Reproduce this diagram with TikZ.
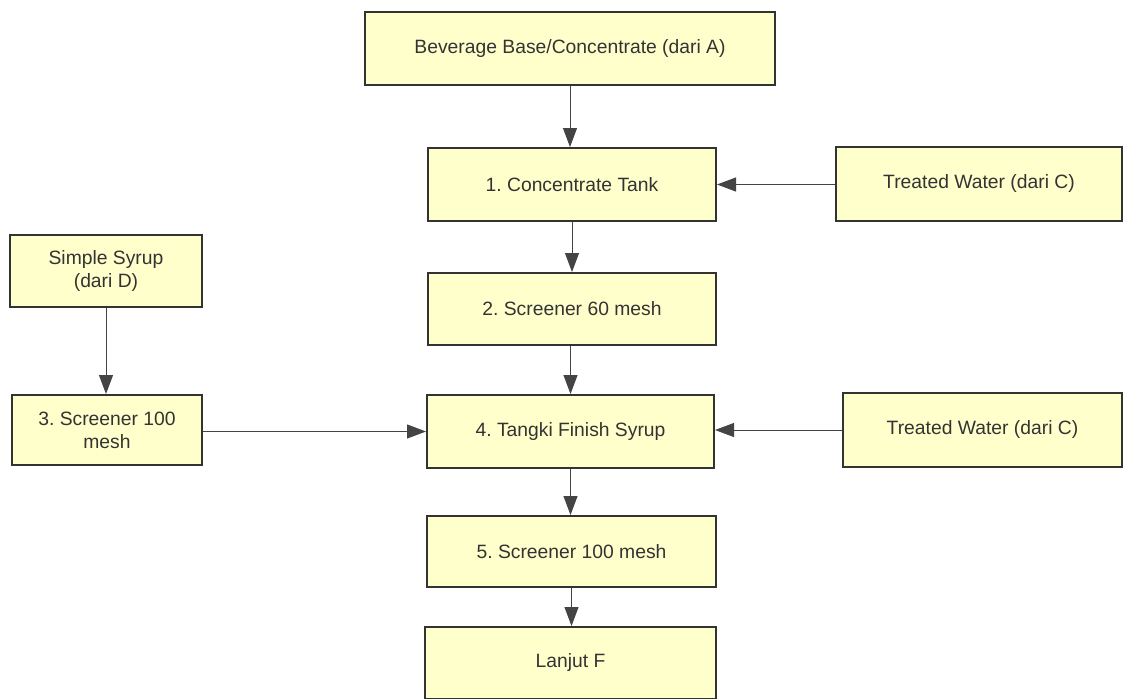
\documentclass[tikz,border=0pt]{standalone}
\usepackage{fontspec}
\setmainfont{Liberation Sans}
\usetikzlibrary{arrows.meta}
\frenchspacing
\definecolor{boxfill}{HTML}{FFFFCC}
\definecolor{boxline}{HTML}{333333}
\definecolor{txt}{HTML}{333333}
\definecolor{flow}{HTML}{444444}
\begin{document}
\begin{tikzpicture}[x=1pt,y=-1pt,
  procbox/.style={draw=boxline, line width=2pt, fill=boxfill, rectangle,
    inner sep=0pt, align=center, text=txt,
    font=\fontsize{19.3}{23}\selectfont},
  flowline/.style={draw=flow, line width=1pt,
    -{Triangle[length=19pt,width=14pt]}}]
  \useasboundingbox (0,0) rectangle (1123,698);
  \clip (0,0) rectangle (1123,698);
  \fill[white] (0,0) rectangle (1123,698);

  % process boxes
  \node[procbox, minimum width=410pt, minimum height=73pt] (bev) at (570,48.5) {Beverage Base/Concentrate (dari A)};
  \node[procbox, minimum width=288pt, minimum height=73pt] (conc) at (572,184.5) {1. Concentrate Tank};
  \node[procbox, minimum width=286pt, minimum height=74pt] (tw1) at (979,184) {Treated Water (dari C)};
  \node[procbox, minimum width=192pt, minimum height=72pt] (syr) at (106,271) {Simple Syrup\\(dari D)};
  \node[procbox, minimum width=288pt, minimum height=72pt] (scr60) at (572,309) {2. Screener 60 mesh};
  \node[procbox, minimum width=190pt, minimum height=70pt] (scr100a) at (107,430) {3. Screener 100\\mesh};
  \node[procbox, minimum width=287pt, minimum height=73pt] (tank) at (570.5,431.5) {4. Tangki Finish Syrup};
  \node[procbox, minimum width=279pt, minimum height=74pt] (tw2) at (982.5,430) {Treated Water (dari C)};
  \node[procbox, minimum width=289pt, minimum height=71pt] (scr100b) at (571.5,551.5) {5. Screener 100 mesh};
  \node[procbox, minimum width=291pt, minimum height=72pt] (next) at (570.5,663) {Lanjut F};

  % flow connectors
  \draw[flowline] (bev.south) -- (bev.south |- conc.north);
  \draw[flowline] (tw1.west |- conc.east) -- (conc.east);
  \draw[flowline] (scr60.north |- conc.south) -- (scr60.north);
  \draw[flowline] (tank.north |- scr60.south) -- (tank.north);
  \draw[flowline] (syr.south) -- (syr.south |- scr100a.north);
  \draw[flowline] (scr100a.east |- tank.west) -- (tank.west);
  \draw[flowline] (tw2.west) -- (tw2.west -| tank.east);
  \draw[flowline] (tank.south) -- (tank.south |- scr100b.north);
  \draw[flowline] (scr100b.south) -- (scr100b.south |- next.north);
\end{tikzpicture}
\end{document}
